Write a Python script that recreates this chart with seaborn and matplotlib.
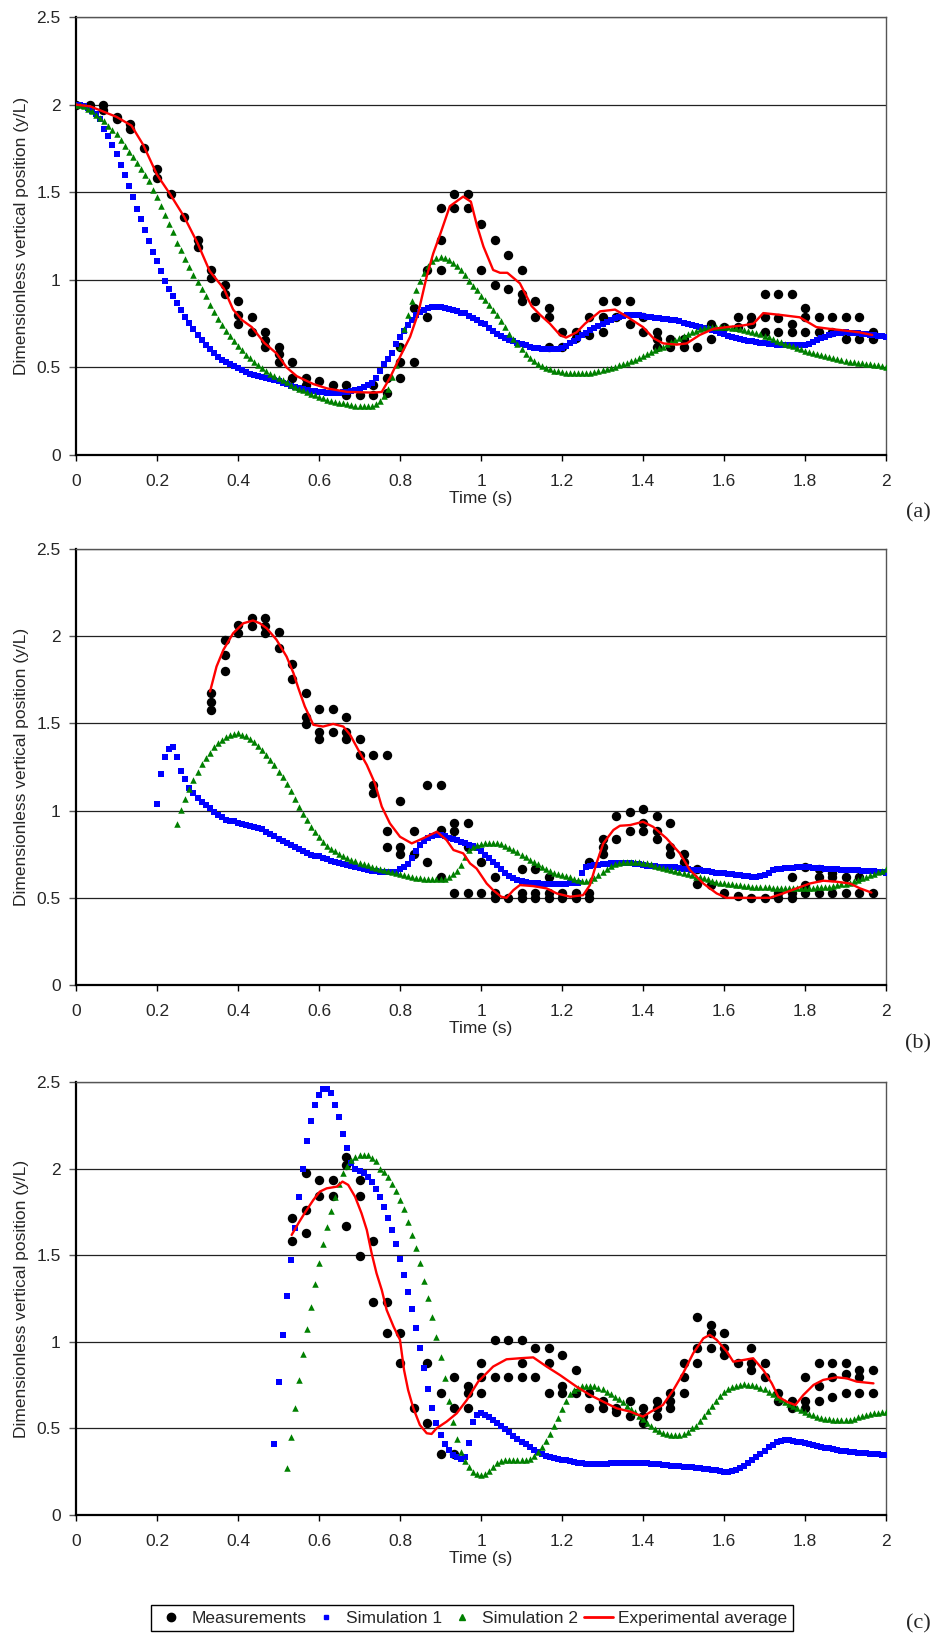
import numpy as np
import pandas as pd
import matplotlib
matplotlib.use("Agg")
import matplotlib.pyplot as plt
import seaborn as sns
from matplotlib.lines import Line2D

# ---------------- DATA ----------------
x_ticks = [0, 0.2, 0.4, 0.6, 0.8, 1.0, 1.2, 1.4, 1.6, 1.8, 2.0]
x_tick_labels = ["0", "0.2", "0.4", "0.6", "0.8", "1", "1.2", "1.4", "1.6", "1.8", "2"]
y_ticks = [0, 0.5, 1.0, 1.5, 2.0, 2.5]
y_tick_labels = ["0", "0.5", "1", "1.5", "2", "2.5"]
series_names = ["Measurements", "Simulation 1", "Simulation 2", "Experimental average"]
panel_tags = ["(a)", "(b)", "(c)"]

# Measurements: one list per video frame (1/30 s), first frame index given
meas_a_k0 = 0
meas_a = [
    [2.0], [2.0], [2.0, 1.97], [1.93, 1.92], [1.89, 1.86], [1.75], [1.63, 1.58], [1.49], [1.36], [1.23, 1.185],
    [1.056, 1.01], [0.97, 0.92], [0.88, 0.80, 0.75], [0.79, 0.70], [0.70, 0.656, 0.618], [0.618, 0.575, 0.53], [0.53, 0.44], [0.44, 0.40], [0.424], [0.40],
    [0.40, 0.34], [0.34], [0.40, 0.34], [0.44, 0.356], [0.618, 0.53, 0.44], [0.837, 0.53], [1.056, 0.79], [1.41, 1.23, 1.056], [1.49, 1.41], [1.49, 1.41],
    [1.32, 1.056], [1.23, 0.97], [1.14, 0.95], [1.056, 0.92, 0.88], [0.88, 0.79], [0.837, 0.79, 0.618], [0.70, 0.618], [0.70, 0.666], [0.79, 0.685], [0.88, 0.79, 0.70],
    [0.88, 0.79], [0.88, 0.75], [0.79, 0.70], [0.70, 0.66, 0.618], [0.66, 0.618], [0.66, 0.618], [0.618], [0.75, 0.66], [0.73], [0.79, 0.73],
    [0.79, 0.75], [0.92, 0.79, 0.70], [0.92, 0.78, 0.70], [0.92, 0.75, 0.70], [0.837, 0.79, 0.70], [0.79, 0.70], [0.79, 0.70], [0.79, 0.66], [0.79, 0.66], [0.70, 0.66],
]
meas_b_k0 = 10
meas_b = [
    [1.673, 1.625, 1.577], [1.976, 1.89, 1.80], [2.065, 2.017], [2.107, 2.06], [2.107, 2.06, 2.017], [2.023, 1.93], [1.84, 1.757], [1.673, 1.539, 1.495], [1.58, 1.453, 1.408], [1.58, 1.453],
    [1.539, 1.453, 1.408], [1.408, 1.319], [1.319, 1.147, 1.1], [1.319, 0.885, 0.793], [1.057, 0.793, 0.75], [0.885, 0.75], [1.147, 0.707], [1.147, 0.889, 0.62], [0.927, 0.885, 0.53], [0.927, 0.793, 0.53],
    [0.707, 0.53], [0.62, 0.53, 0.50], [0.50], [0.666, 0.53, 0.50], [0.666, 0.53, 0.50], [0.617, 0.53, 0.50], [0.53, 0.50], [0.53, 0.50], [0.707, 0.53, 0.50], [0.835, 0.793, 0.75],
    [0.969, 0.835], [0.99, 0.885], [1.01, 0.927, 0.885], [0.969, 0.885, 0.835], [0.927, 0.793, 0.75], [0.75, 0.707], [0.666, 0.577], [0.573], [0.53], [0.51],
    [0.50], [0.50], [0.53, 0.50], [0.617, 0.53, 0.50], [0.675, 0.573, 0.53], [0.666, 0.617, 0.53], [0.64, 0.617, 0.53], [0.617, 0.53], [0.617, 0.53], [0.53],
]
meas_c_k0 = 16
meas_c = [
    [1.713, 1.582], [1.977, 1.761, 1.627], [1.935, 1.844], [1.935, 1.844],
    [2.069, 2.021, 1.669], [1.935, 1.844, 1.496], [1.582, 1.232], [1.232, 1.053], [1.053, 0.88], [0.616], [0.88, 0.529], [0.703, 0.352], [0.795, 0.616, 0.352], [0.745, 0.703, 0.616],
    [0.88, 0.795, 0.703], [1.011, 0.795], [1.011, 0.795], [1.011, 0.88, 0.795], [0.966, 0.795], [0.966, 0.88, 0.703], [0.924, 0.745, 0.703], [0.837, 0.703], [0.703, 0.616], [0.66, 0.616],
    [0.616, 0.593], [0.66, 0.572], [0.616, 0.572, 0.529], [0.66, 0.616, 0.572], [0.703, 0.66, 0.616], [0.88, 0.795, 0.703], [1.145, 0.966, 0.88], [1.097, 1.053, 0.966], [1.053, 0.966, 0.924], [0.88],
    [0.966, 0.88, 0.837], [0.88, 0.795], [0.703, 0.66], [0.66, 0.616], [0.795, 0.66, 0.616], [0.88, 0.745, 0.66], [0.88, 0.795, 0.68], [0.88, 0.814, 0.703], [0.837, 0.795, 0.703], [0.837, 0.703],
]

# Simulations: values every 0.01 s starting at the given time
sim1_a_t0 = 0.00
sim1_a = [
    2.00, 2.00, 1.99, 1.98, 1.965, 1.945, 1.915, 1.86, 1.82, 1.77,
    1.72, 1.655, 1.60, 1.535, 1.47, 1.405, 1.345, 1.285, 1.22, 1.16,
    1.105, 1.05, 0.995, 0.95, 0.905, 0.865, 0.828, 0.79, 0.752, 0.717,
    0.685, 0.656, 0.628, 0.605, 0.582, 0.562, 0.544, 0.53, 0.518, 0.507,
    0.497, 0.486, 0.472, 0.463, 0.456, 0.45, 0.443, 0.437, 0.432, 0.426,
    0.421, 0.413, 0.405, 0.396, 0.388, 0.381, 0.375, 0.371, 0.367, 0.363,
    0.36, 0.358, 0.356, 0.356, 0.356, 0.356, 0.358, 0.36, 0.364, 0.37,
    0.379, 0.388, 0.398, 0.409, 0.44, 0.478, 0.518, 0.55, 0.585, 0.635,
    0.672, 0.71, 0.742, 0.77, 0.797, 0.818, 0.828, 0.837, 0.844, 0.847,
    0.847, 0.841, 0.833, 0.827, 0.82, 0.813, 0.809, 0.795, 0.78, 0.768,
    0.755, 0.745, 0.725, 0.705, 0.692, 0.678, 0.667, 0.658, 0.65, 0.641,
    0.632, 0.625, 0.618, 0.612, 0.608, 0.605, 0.603, 0.603, 0.604, 0.607,
    0.612, 0.624, 0.637, 0.652, 0.667, 0.683, 0.697, 0.712, 0.725, 0.738,
    0.75, 0.761, 0.772, 0.782, 0.789, 0.794, 0.798, 0.80, 0.80, 0.797,
    0.792, 0.789, 0.786, 0.783, 0.78, 0.777, 0.774, 0.771, 0.768, 0.762,
    0.755, 0.749, 0.743, 0.737, 0.731, 0.725, 0.719, 0.712, 0.705, 0.697,
    0.69, 0.682, 0.674, 0.666, 0.66, 0.655, 0.651, 0.648, 0.644, 0.64,
    0.637, 0.635, 0.632, 0.63, 0.628, 0.628, 0.628, 0.628, 0.628, 0.628,
    0.628, 0.632, 0.645, 0.656, 0.665, 0.676, 0.685, 0.69, 0.695, 0.699,
    0.70, 0.699, 0.697, 0.694, 0.691, 0.688, 0.685, 0.683, 0.68, 0.678,
    0.675,
]
sim2_a_t0 = 0.00
sim2_a = [
    2.00, 1.995, 1.99, 1.975, 1.962, 1.94, 1.925, 1.905, 1.88, 1.855,
    1.83, 1.80, 1.765, 1.73, 1.70, 1.665, 1.635, 1.60, 1.565, 1.515,
    1.47, 1.42, 1.37, 1.32, 1.27, 1.21, 1.17, 1.12, 1.075, 1.03,
    0.985, 0.945, 0.905, 0.855, 0.815, 0.778, 0.742, 0.71, 0.678, 0.65,
    0.622, 0.597, 0.573, 0.552, 0.532, 0.512, 0.494, 0.477, 0.462, 0.449,
    0.437, 0.426, 0.415, 0.402, 0.39, 0.379, 0.369, 0.36, 0.35, 0.341,
    0.332, 0.324, 0.316, 0.309, 0.304, 0.299, 0.294, 0.289, 0.284, 0.281,
    0.28, 0.28, 0.28, 0.28, 0.29, 0.31, 0.338, 0.375, 0.444, 0.514,
    0.618, 0.717, 0.80, 0.878, 0.944, 0.995, 1.04, 1.077, 1.108, 1.125,
    1.132, 1.125, 1.113, 1.097, 1.079, 1.056, 1.03, 0.995, 0.965, 0.94,
    0.91, 0.885, 0.855, 0.825, 0.797, 0.763, 0.728, 0.692, 0.66, 0.632,
    0.605, 0.578, 0.555, 0.538, 0.522, 0.51, 0.498, 0.489, 0.482, 0.477,
    0.473, 0.469, 0.466, 0.466, 0.466, 0.466, 0.467, 0.469, 0.473, 0.477,
    0.483, 0.489, 0.496, 0.503, 0.511, 0.519, 0.527, 0.535, 0.543, 0.553,
    0.565, 0.577, 0.588, 0.598, 0.608, 0.618, 0.631, 0.644, 0.656, 0.668,
    0.68, 0.692, 0.702, 0.71, 0.717, 0.724, 0.728, 0.731, 0.732, 0.732,
    0.731, 0.73, 0.727, 0.724, 0.72, 0.715, 0.709, 0.702, 0.696, 0.689,
    0.68, 0.671, 0.662, 0.652, 0.643, 0.635, 0.628, 0.62, 0.613, 0.604,
    0.596, 0.588, 0.58, 0.574, 0.568, 0.563, 0.557, 0.551, 0.546, 0.541,
    0.537, 0.533, 0.53, 0.527, 0.524, 0.521, 0.518, 0.515, 0.511, 0.507,
    0.504,
]
sim1_b_t0 = 0.20
sim1_b = [
    1.04, 1.21, 1.306, 1.354, 1.367, 1.31, 1.227, 1.18, 1.132, 1.10,
    1.074, 1.051, 1.032, 1.013, 0.994, 0.975, 0.962, 0.948, 0.942, 0.938,
    0.93, 0.924, 0.918, 0.912, 0.907, 0.90, 0.893, 0.88, 0.868, 0.855,
    0.84, 0.826, 0.812, 0.80, 0.79, 0.778, 0.766, 0.755, 0.748, 0.742,
    0.737, 0.728, 0.72, 0.711, 0.704, 0.698, 0.692, 0.687, 0.681, 0.675,
    0.67, 0.664, 0.659, 0.656, 0.653, 0.65, 0.648, 0.646, 0.646, 0.65,
    0.663, 0.678, 0.695, 0.728, 0.77, 0.803, 0.828, 0.845, 0.856, 0.86,
    0.86, 0.853, 0.845, 0.837, 0.829, 0.821, 0.813, 0.805, 0.795, 0.784,
    0.766, 0.747, 0.73, 0.708, 0.686, 0.663, 0.643, 0.625, 0.611, 0.601,
    0.595, 0.59, 0.586, 0.584, 0.582, 0.58, 0.579, 0.579, 0.579, 0.579,
    0.579, 0.58, 0.582, 0.584, 0.586, 0.64, 0.678, 0.685, 0.688, 0.69,
    0.693, 0.695, 0.697, 0.699, 0.70, 0.701, 0.70, 0.698, 0.695, 0.692,
    0.688, 0.684, 0.681, 0.68, 0.679, 0.678, 0.677, 0.676, 0.675, 0.672,
    0.668, 0.665, 0.662, 0.66, 0.657, 0.654, 0.651, 0.648, 0.645, 0.642,
    0.64, 0.637, 0.634, 0.631, 0.628, 0.625, 0.623, 0.622, 0.621, 0.624,
    0.632, 0.645, 0.657, 0.663, 0.667, 0.67, 0.672, 0.673, 0.674, 0.674,
    0.674, 0.674, 0.673, 0.671, 0.67, 0.668, 0.666, 0.665, 0.663, 0.662,
    0.66, 0.659, 0.658, 0.657, 0.656, 0.655, 0.653, 0.651, 0.649, 0.647,
    0.645,
]
sim2_b_t0 = 0.25
sim2_b = [
    0.923, 1.003, 1.068, 1.122, 1.175,
    1.223, 1.267, 1.302, 1.332, 1.363, 1.386, 1.405, 1.42, 1.434, 1.44,
    1.444, 1.436, 1.426, 1.412, 1.395, 1.372, 1.347, 1.32, 1.29, 1.26,
    1.223, 1.19, 1.15, 1.11, 1.066, 1.022, 0.982, 0.946, 0.905, 0.879,
    0.85, 0.82, 0.798, 0.782, 0.767, 0.752, 0.74, 0.728, 0.718, 0.709,
    0.702, 0.694, 0.687, 0.678, 0.67, 0.663, 0.658, 0.654, 0.648, 0.642,
    0.636, 0.63, 0.624, 0.618, 0.614, 0.611, 0.608, 0.606, 0.606, 0.606,
    0.606, 0.608, 0.62, 0.637, 0.655, 0.69, 0.735, 0.775, 0.79, 0.80,
    0.81, 0.813, 0.816, 0.815, 0.812, 0.806, 0.798, 0.787, 0.775, 0.761,
    0.747, 0.732, 0.718, 0.705, 0.692, 0.679, 0.667, 0.655, 0.645, 0.637,
    0.629, 0.623, 0.617, 0.61, 0.604, 0.599, 0.599, 0.603, 0.613, 0.628,
    0.646, 0.665, 0.68, 0.692, 0.70, 0.705, 0.707, 0.707, 0.707, 0.705,
    0.701, 0.697, 0.692, 0.685, 0.677, 0.669, 0.663, 0.657, 0.652, 0.646,
    0.64, 0.634, 0.628, 0.622, 0.617, 0.611, 0.605, 0.599, 0.593, 0.587,
    0.582, 0.58, 0.577, 0.574, 0.571, 0.569, 0.566, 0.564, 0.563, 0.561,
    0.56, 0.56, 0.559, 0.558, 0.558, 0.558, 0.558, 0.556, 0.554, 0.554,
    0.555, 0.557, 0.559, 0.56, 0.562, 0.563, 0.563, 0.567, 0.573, 0.577,
    0.581, 0.586, 0.594, 0.604, 0.613, 0.622, 0.63, 0.638, 0.646, 0.655,
    0.667,
]
sim1_c_t0 = 0.49
sim1_c = [
    0.41,
    0.77, 1.039, 1.267, 1.473, 1.655, 1.834, 1.996, 2.16, 2.277, 2.368,
    2.425, 2.458, 2.458, 2.435, 2.368, 2.30, 2.198, 2.121, 2.03, 1.996,
    1.988, 1.973, 1.954, 1.923, 1.885, 1.834, 1.78, 1.717, 1.646, 1.565,
    1.478, 1.386, 1.29, 1.188, 1.078, 0.966, 0.847, 0.728, 0.616, 0.529,
    0.462, 0.41, 0.375, 0.346, 0.333, 0.321, 0.337, 0.418, 0.539, 0.577,
    0.587, 0.58, 0.566, 0.549, 0.532, 0.515, 0.497, 0.477, 0.456, 0.44,
    0.423, 0.408, 0.39, 0.374, 0.362, 0.352, 0.343, 0.336, 0.331, 0.325,
    0.32, 0.315, 0.31, 0.305, 0.301, 0.298, 0.295, 0.295, 0.295, 0.295,
    0.296, 0.297, 0.298, 0.298, 0.298, 0.298, 0.298, 0.298, 0.298, 0.298,
    0.298, 0.298, 0.297, 0.295, 0.292, 0.289, 0.287, 0.285, 0.283, 0.282,
    0.28, 0.279, 0.277, 0.274, 0.271, 0.268, 0.265, 0.262, 0.26, 0.255,
    0.25, 0.25, 0.253, 0.26, 0.27, 0.285, 0.30, 0.32, 0.337, 0.355,
    0.37, 0.39, 0.405, 0.423, 0.43, 0.433, 0.431, 0.429, 0.424, 0.419,
    0.414, 0.409, 0.403, 0.398, 0.393, 0.389, 0.385, 0.38, 0.375, 0.372,
    0.369, 0.365, 0.362, 0.36, 0.358, 0.356, 0.353, 0.352, 0.351, 0.349,
    0.346,
]
sim2_c_t0 = 0.52
sim2_c = [
    0.27, 0.449, 0.616, 0.78, 0.93, 1.076, 1.203, 1.334,
    1.453, 1.563, 1.665, 1.756, 1.838, 1.911, 1.977, 2.015, 2.05, 2.069,
    2.077, 2.079, 2.077, 2.064, 2.044, 1.996, 1.981, 1.95, 1.911, 1.871,
    1.819, 1.765, 1.694, 1.617, 1.54, 1.453, 1.353, 1.251, 1.141, 1.03,
    0.914, 0.789, 0.66, 0.535, 0.437, 0.362, 0.312, 0.279, 0.25, 0.237,
    0.231, 0.236, 0.255, 0.28, 0.302, 0.31, 0.315, 0.318, 0.318, 0.318,
    0.318, 0.318, 0.325, 0.34, 0.362, 0.395, 0.427, 0.467, 0.515, 0.56,
    0.61, 0.66, 0.70, 0.722, 0.734, 0.742, 0.745, 0.745, 0.742, 0.735,
    0.725, 0.711, 0.697, 0.682, 0.667, 0.652, 0.632, 0.612, 0.594, 0.574,
    0.553, 0.533, 0.515, 0.499, 0.487, 0.475, 0.468, 0.463, 0.46, 0.462,
    0.468, 0.481, 0.5, 0.515, 0.54, 0.57, 0.6, 0.63, 0.66, 0.685,
    0.708, 0.725, 0.737, 0.745, 0.751, 0.755, 0.753, 0.749, 0.743, 0.735,
    0.725, 0.713, 0.698, 0.683, 0.668, 0.655, 0.643, 0.63, 0.615, 0.604,
    0.594, 0.584, 0.575, 0.568, 0.561, 0.557, 0.553, 0.551, 0.549, 0.549,
    0.549, 0.551, 0.556, 0.563, 0.569, 0.575, 0.581, 0.587, 0.591, 0.594,
    0.597,
]

# Experimental average (smooth red line), read at irregular times
avg_a_t = [0, 0.035, 0.1, 0.137, 0.166, 0.2, 0.232, 0.267, 0.3, 0.33,
           0.365, 0.388, 0.41, 0.434, 0.465, 0.495, 0.52, 0.545, 0.586, 0.62,
           0.67, 0.735, 0.755, 0.775, 0.8, 0.825, 0.845, 0.866, 0.882, 0.9,
           0.923, 0.956, 0.975, 0.99, 1.006, 1.03, 1.047, 1.065, 1.096, 1.125,
           1.146, 1.17, 1.195, 1.21, 1.236, 1.257, 1.294, 1.331, 1.36, 1.4,
           1.426, 1.45, 1.483, 1.508, 1.54, 1.574, 1.607, 1.648, 1.673, 1.697,
           1.738, 1.787, 1.828, 1.861, 1.9, 1.935, 1.966]
avg_a_v = [2.0, 1.99, 1.93, 1.88, 1.77, 1.6, 1.49, 1.36, 1.21, 1.05,
           0.95, 0.83, 0.77, 0.73, 0.64, 0.58, 0.50, 0.45, 0.405, 0.38,
           0.36, 0.356, 0.36, 0.44, 0.56, 0.675, 0.81, 1.02, 1.15, 1.265,
           1.42, 1.475, 1.446, 1.31, 1.19, 1.056, 1.04, 1.04, 0.98, 0.85,
           0.80, 0.75, 0.685, 0.67, 0.70, 0.75, 0.82, 0.83, 0.79, 0.73,
           0.666, 0.637, 0.63, 0.637, 0.685, 0.72, 0.73, 0.74, 0.75, 0.81,
           0.80, 0.786, 0.73, 0.72, 0.71, 0.70, 0.685]
avg_b_t = [0.331, 0.347, 0.364, 0.388, 0.413, 0.437, 0.454, 0.471, 0.495, 0.52,
           0.537, 0.549, 0.565, 0.586, 0.61, 0.635, 0.66, 0.677, 0.697, 0.718,
           0.738, 0.755, 0.775, 0.8, 0.829, 0.857, 0.891, 0.915, 0.932, 0.956,
           0.973, 0.989, 1.014, 1.03, 1.05, 1.063, 1.08, 1.096, 1.129, 1.162,
           1.187, 1.22, 1.252, 1.269, 1.285, 1.302, 1.327, 1.343, 1.368, 1.4,
           1.425, 1.458, 1.491, 1.516, 1.549, 1.582, 1.606, 1.63, 1.672, 1.713,
           1.746, 1.779, 1.812, 1.845, 1.878, 1.911, 1.936, 1.964]
avg_b_v = [1.683, 1.826, 1.922, 2.017, 2.074, 2.09, 2.074, 2.045, 1.98, 1.883,
           1.788, 1.702, 1.597, 1.492, 1.482, 1.497, 1.482, 1.434, 1.348, 1.262,
           1.157, 1.023, 0.927, 0.85, 0.812, 0.841, 0.879, 0.831, 0.774, 0.755,
           0.697, 0.668, 0.582, 0.544, 0.506, 0.50, 0.544, 0.573, 0.567, 0.554,
           0.525, 0.506, 0.515, 0.573, 0.697, 0.812, 0.889, 0.913, 0.917, 0.936,
           0.907, 0.841, 0.755, 0.659, 0.582, 0.525, 0.50, 0.50, 0.50, 0.50,
           0.525, 0.554, 0.582, 0.598, 0.592, 0.582, 0.554, 0.53]
avg_c_t = [0.5325, 0.549, 0.567, 0.586, 0.602, 0.619, 0.644, 0.658, 0.672, 0.689,
           0.705, 0.718, 0.73, 0.742, 0.755, 0.767, 0.784, 0.8, 0.81, 0.82,
           0.833, 0.849, 0.866, 0.878, 0.89, 0.915, 0.94, 0.965, 0.993, 1.03,
           1.063, 1.096, 1.129, 1.162, 1.195, 1.236, 1.269, 1.302, 1.335, 1.368,
           1.4, 1.42, 1.449, 1.475, 1.499, 1.524, 1.549, 1.565, 1.582, 1.607,
           1.623, 1.648, 1.672, 1.697, 1.718, 1.734, 1.755, 1.776, 1.796, 1.821,
           1.845, 1.878, 1.903, 1.928, 1.969]
avg_c_v = [1.617, 1.684, 1.752, 1.819, 1.867, 1.886, 1.896, 1.925, 1.906, 1.838,
           1.742, 1.646, 1.511, 1.396, 1.299, 1.184, 1.088, 1.011, 0.837, 0.722,
           0.616, 0.52, 0.472, 0.468, 0.50, 0.539, 0.587, 0.664, 0.77, 0.857,
           0.899, 0.905, 0.91, 0.857, 0.808, 0.741, 0.693, 0.654, 0.616, 0.597,
           0.568, 0.597, 0.635, 0.722, 0.818, 0.934, 1.02, 1.04, 1.011, 0.943,
           0.885, 0.895, 0.905, 0.837, 0.76, 0.683, 0.654, 0.635, 0.693, 0.751,
           0.78, 0.795, 0.789, 0.77, 0.76]

# ---------------- HELPERS ----------------
def meas_frame(k0, frames):
    ts, vs = [], []
    for i, vals in enumerate(frames):
        for v in vals:
            ts.append((k0 + i) / 30.0)
            vs.append(v)
    return pd.DataFrame({"t": ts, "v": vs})

def sim_frame(t0, vals):
    t = t0 + 0.01 * np.arange(len(vals))
    return pd.DataFrame({"t": t, "v": vals})

panels = [
    (meas_frame(meas_a_k0, meas_a), sim_frame(sim1_a_t0, sim1_a), sim_frame(sim2_a_t0, sim2_a),
     pd.DataFrame({"t": avg_a_t, "v": avg_a_v})),
    (meas_frame(meas_b_k0, meas_b), sim_frame(sim1_b_t0, sim1_b), sim_frame(sim2_b_t0, sim2_b),
     pd.DataFrame({"t": avg_b_t, "v": avg_b_v})),
    (meas_frame(meas_c_k0, meas_c), sim_frame(sim1_c_t0, sim1_c), sim_frame(sim2_c_t0, sim2_c),
     pd.DataFrame({"t": avg_c_t, "v": avg_c_v})),
]

# ---------------- PLOT ----------------
sns.set_theme(style="white")
plt.rcParams["font.family"] = ["Liberation Sans", "DejaVu Sans"]

W, H = 943, 1637
fig = plt.figure(figsize=(W / 100, H / 100), dpi=100)

ax_left, ax_right = 76, 886
ax_boxes = [(17, 455), (549, 985), (1082, 1515)]
tag_y = [513, 1044, 1624]

FS = 12.5
for i, ((dm, d1, d2, da), (top, bot)) in enumerate(zip(panels, ax_boxes)):
    ax = fig.add_axes([ax_left / W, 1 - bot / H, (ax_right - ax_left) / W, (bot - top) / H])
    sns.scatterplot(data=dm, x="t", y="v", ax=ax, color="black", marker="o", s=46,
                    linewidth=0, zorder=3, legend=False)
    sns.scatterplot(data=d1, x="t", y="v", ax=ax, color="#0000FF", marker="s", s=14,
                    linewidth=0, zorder=4, legend=False)
    sns.scatterplot(data=d2, x="t", y="v", ax=ax, color="#008000", marker="^", s=22,
                    linewidth=0, zorder=5, legend=False)
    sns.lineplot(data=da, x="t", y="v", ax=ax, color="#FF0000", linewidth=1.7,
                 sort=False, estimator=None, zorder=6, legend=False)
    ax.set_xlim(0, 2)
    ax.set_ylim(0, 2.5)
    ax.set_xticks(x_ticks)
    ax.set_xticklabels(x_tick_labels)
    ax.set_yticks(y_ticks)
    ax.set_yticklabels(y_tick_labels)
    ax.yaxis.grid(True, color="#222222", linewidth=0.9)
    ax.xaxis.grid(False)
    ax.set_axisbelow(True)
    for side in ["left", "bottom"]:
        ax.spines[side].set_color("black")
        ax.spines[side].set_linewidth(1.6)
    for side in ["top", "right"]:
        ax.spines[side].set_color("#555555")
        ax.spines[side].set_linewidth(1.0)
    ax.tick_params(axis="x", direction="out", length=4, width=1, color="black",
                   labelsize=FS, pad=10, bottom=True)
    ax.tick_params(axis="y", direction="out", length=5, width=1, color="#555555",
                   labelsize=FS, pad=6, left=True)
    ax.set_xlabel("Time (s)", fontsize=FS, labelpad=1)
    ax.set_ylabel("Dimensionless vertical position (y/L)", fontsize=FS, labelpad=5)
    fig.text(918 / W, 1 - tag_y[i] / H, panel_tags[i], fontsize=16,
             family=["Liberation Serif", "DejaVu Serif"], ha="center", va="center")

handles = [
    Line2D([], [], marker="o", color="black", linestyle="none", markersize=6),
    Line2D([], [], marker="s", color="#0000FF", linestyle="none", markersize=3.5),
    Line2D([], [], marker="^", color="#008000", linestyle="none", markersize=4.5),
    Line2D([], [], color="#FF0000", linewidth=2),
]
leg = fig.legend(handles, series_names, loc="center", bbox_to_anchor=(472 / W, 1 - 1618 / H),
                 ncol=4, frameon=True, fancybox=False, framealpha=1, edgecolor="black",
                 fontsize=FS, handlelength=1.7, handletextpad=0.3, columnspacing=0.3,
                 borderpad=0.3, borderaxespad=0)
leg.get_frame().set_linewidth(1.0)

fig.savefig("out.png", dpi=100)
